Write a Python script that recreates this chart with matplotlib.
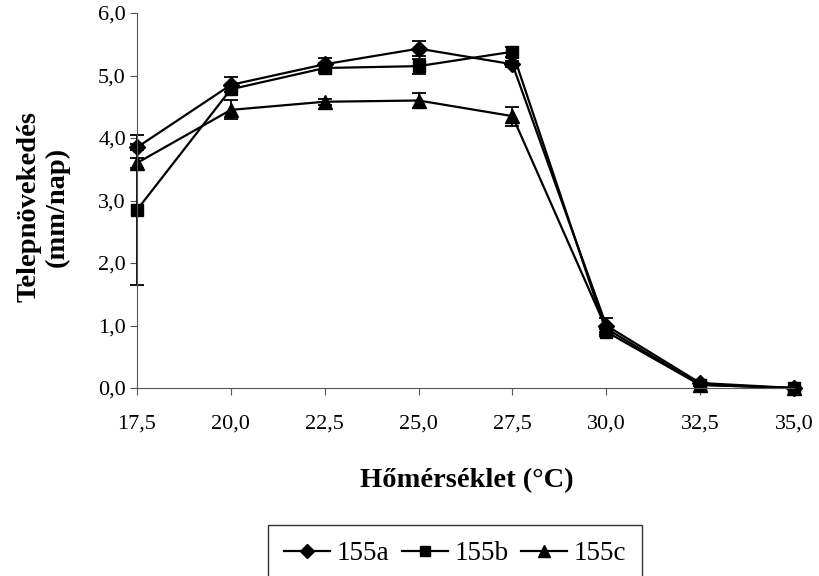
import matplotlib
matplotlib.use("Agg")
import matplotlib.pyplot as plt
import numpy as np

plt.rcParams['font.family'] = ['Liberation Serif', 'DejaVu Serif']

temps = [17.5, 20.0, 22.5, 25.0, 27.5, 30.0, 32.5, 35.0]
labels = ["17,5", "20,0", "22,5", "25,0", "27,5", "30,0", "32,5", "35,0"]

a_vals = [3.85, 4.85, 5.18, 5.43, 5.18, 1.00, 0.08, 0.00]
a_err = [0.05, 0.12, 0.10, 0.12, 0.05, 0.12, 0.02, 0.00]
b_vals = [2.85, 4.78, 5.12, 5.15, 5.38, 0.90, 0.05, 0.00]
b_err = [1.20, 0.05, 0.08, 0.12, 0.08, 0.05, 0.02, 0.00]
c_vals = [3.60, 4.45, 4.58, 4.60, 4.35, 0.95, 0.05, 0.00]
c_err = [0.08, 0.15, 0.05, 0.12, 0.15, 0.05, 0.02, 0.00]

fig = plt.figure(figsize=(8.2, 5.76), dpi=100)
ax = fig.add_axes([137/820, 1 - 388/576, (794 - 137)/820, (388 - 13)/576])

series = [(a_vals, a_err, "D", 8, "155a"),
          (b_vals, b_err, "s", 9, "155b"),
          (c_vals, c_err, "^", 9.5, "155c")]
for vals, err, mk, ms, name in series:
    ax.errorbar(temps, vals, yerr=err, color="black", marker=mk, markersize=ms,
                linewidth=1.6, elinewidth=1.3, capsize=5, capthick=1.3,
                label=name, clip_on=False)

ax.set_xlim(17.5, 35.0)
ax.set_ylim(0, 6.0)
ax.set_xticks(temps)
ax.set_xticklabels(labels)
yt = np.arange(0, 6.01, 1.0)
ax.set_yticks(yt)
ax.set_yticklabels([f"{v:.1f}".replace(".", ",") for v in yt])
ax.tick_params(labelsize=16, direction="out", length=5, color="#555555")
ax.tick_params(axis="x", pad=14)
ax.tick_params(axis="y", pad=3)
for s in ["top", "right"]:
    ax.spines[s].set_visible(False)
for s in ["left", "bottom"]:
    ax.spines[s].set_color("#555555")

fig.text(467/820, 1 - 481/576, "Hőmérséklet (°C)", fontsize=20.5,
         fontweight="bold", ha="center", va="center")
fig.text(43/820, 1 - 207/576, "Telepnövekedés\n(mm/nap)", fontsize=20.5,
         fontweight="bold", ha="center", va="center", rotation=90,
         multialignment="center", linespacing=1.15)

handles, lbls = ax.get_legend_handles_labels()
handles = [h[0] for h in handles]
leg = fig.legend(handles, lbls, ncol=3, loc="upper center",
                 bbox_to_anchor=(455/820, 1 - 525/576), borderaxespad=0,
                 fontsize=19.5, frameon=True, fancybox=False,
                 edgecolor="black", handlelength=1.7, markerscale=0.85,
                 columnspacing=0.45, handletextpad=0.25, borderpad=0.6)
leg.get_frame().set_linewidth(1.0)

fig.savefig("out.png", dpi=100)
